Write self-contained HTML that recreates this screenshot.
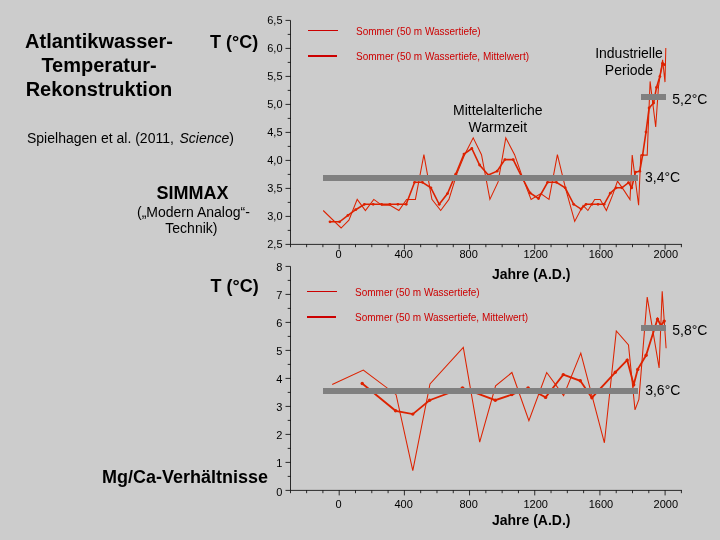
<!DOCTYPE html>
<html><head><meta charset="utf-8"><title>Atlantikwasser-Temperatur-Rekonstruktion</title>
<style>
html,body{margin:0;padding:0}
body{width:720px;height:540px;background:#cccccc;position:relative;overflow:hidden;font-family:"Liberation Sans",sans-serif;color:#000}
.t{position:absolute;white-space:nowrap;line-height:1.15}
#txt{position:absolute;left:0;top:0;width:720px;height:540px;will-change:transform}
</style></head><body>
<svg width="720" height="540" viewBox="0 0 720 540" style="position:absolute;left:0;top:0">
<g stroke="#000" stroke-width="0.8" fill="none">
<line x1="290.5" y1="20.4" x2="290.5" y2="244.4"/><line x1="285.5" y1="20.40" x2="290.5" y2="20.40"/><line x1="287.7" y1="34.40" x2="290.5" y2="34.40"/><line x1="285.5" y1="48.40" x2="290.5" y2="48.40"/><line x1="287.7" y1="62.40" x2="290.5" y2="62.40"/><line x1="285.5" y1="76.40" x2="290.5" y2="76.40"/><line x1="287.7" y1="90.40" x2="290.5" y2="90.40"/><line x1="285.5" y1="104.40" x2="290.5" y2="104.40"/><line x1="287.7" y1="118.40" x2="290.5" y2="118.40"/><line x1="285.5" y1="132.40" x2="290.5" y2="132.40"/><line x1="287.7" y1="146.40" x2="290.5" y2="146.40"/><line x1="285.5" y1="160.40" x2="290.5" y2="160.40"/><line x1="287.7" y1="174.40" x2="290.5" y2="174.40"/><line x1="285.5" y1="188.40" x2="290.5" y2="188.40"/><line x1="287.7" y1="202.40" x2="290.5" y2="202.40"/><line x1="285.5" y1="216.40" x2="290.5" y2="216.40"/><line x1="287.7" y1="230.40" x2="290.5" y2="230.40"/><line x1="285.5" y1="244.40" x2="290.5" y2="244.40"/>
<line x1="290.5" y1="244.4" x2="681.9" y2="244.4"/><line x1="290.5" y1="244.4" x2="290.5" y2="247.20000000000002"/><line x1="306.61" y1="244.4" x2="306.61" y2="247.20000000000002"/><line x1="322.90" y1="244.4" x2="322.90" y2="247.20000000000002"/><line x1="339.20" y1="244.4" x2="339.20" y2="249.4"/><line x1="355.50" y1="244.4" x2="355.50" y2="247.20000000000002"/><line x1="371.79" y1="244.4" x2="371.79" y2="247.20000000000002"/><line x1="388.08" y1="244.4" x2="388.08" y2="247.20000000000002"/><line x1="404.38" y1="244.4" x2="404.38" y2="249.4"/><line x1="420.68" y1="244.4" x2="420.68" y2="247.20000000000002"/><line x1="436.97" y1="244.4" x2="436.97" y2="247.20000000000002"/><line x1="453.26" y1="244.4" x2="453.26" y2="247.20000000000002"/><line x1="469.56" y1="244.4" x2="469.56" y2="249.4"/><line x1="485.85" y1="244.4" x2="485.85" y2="247.20000000000002"/><line x1="502.15" y1="244.4" x2="502.15" y2="247.20000000000002"/><line x1="518.45" y1="244.4" x2="518.45" y2="247.20000000000002"/><line x1="534.74" y1="244.4" x2="534.74" y2="249.4"/><line x1="551.04" y1="244.4" x2="551.04" y2="247.20000000000002"/><line x1="567.33" y1="244.4" x2="567.33" y2="247.20000000000002"/><line x1="583.62" y1="244.4" x2="583.62" y2="247.20000000000002"/><line x1="599.92" y1="244.4" x2="599.92" y2="249.4"/><line x1="616.22" y1="244.4" x2="616.22" y2="247.20000000000002"/><line x1="632.51" y1="244.4" x2="632.51" y2="247.20000000000002"/><line x1="648.81" y1="244.4" x2="648.81" y2="247.20000000000002"/><line x1="665.10" y1="244.4" x2="665.10" y2="249.4"/><line x1="681.40" y1="244.4" x2="681.40" y2="247.20000000000002"/>
<line x1="290.5" y1="266.4" x2="290.5" y2="490.4"/><line x1="285.5" y1="266.40" x2="290.5" y2="266.40"/><line x1="287.7" y1="280.40" x2="290.5" y2="280.40"/><line x1="285.5" y1="294.40" x2="290.5" y2="294.40"/><line x1="287.7" y1="308.40" x2="290.5" y2="308.40"/><line x1="285.5" y1="322.40" x2="290.5" y2="322.40"/><line x1="287.7" y1="336.40" x2="290.5" y2="336.40"/><line x1="285.5" y1="350.40" x2="290.5" y2="350.40"/><line x1="287.7" y1="364.40" x2="290.5" y2="364.40"/><line x1="285.5" y1="378.40" x2="290.5" y2="378.40"/><line x1="287.7" y1="392.40" x2="290.5" y2="392.40"/><line x1="285.5" y1="406.40" x2="290.5" y2="406.40"/><line x1="287.7" y1="420.40" x2="290.5" y2="420.40"/><line x1="285.5" y1="434.40" x2="290.5" y2="434.40"/><line x1="287.7" y1="448.40" x2="290.5" y2="448.40"/><line x1="285.5" y1="462.40" x2="290.5" y2="462.40"/><line x1="287.7" y1="476.40" x2="290.5" y2="476.40"/><line x1="285.5" y1="490.40" x2="290.5" y2="490.40"/>
<line x1="290.5" y1="490.4" x2="681.9" y2="490.4"/><line x1="290.5" y1="490.4" x2="290.5" y2="493.2"/><line x1="306.61" y1="490.4" x2="306.61" y2="493.2"/><line x1="322.90" y1="490.4" x2="322.90" y2="493.2"/><line x1="339.20" y1="490.4" x2="339.20" y2="495.4"/><line x1="355.50" y1="490.4" x2="355.50" y2="493.2"/><line x1="371.79" y1="490.4" x2="371.79" y2="493.2"/><line x1="388.08" y1="490.4" x2="388.08" y2="493.2"/><line x1="404.38" y1="490.4" x2="404.38" y2="495.4"/><line x1="420.68" y1="490.4" x2="420.68" y2="493.2"/><line x1="436.97" y1="490.4" x2="436.97" y2="493.2"/><line x1="453.26" y1="490.4" x2="453.26" y2="493.2"/><line x1="469.56" y1="490.4" x2="469.56" y2="495.4"/><line x1="485.85" y1="490.4" x2="485.85" y2="493.2"/><line x1="502.15" y1="490.4" x2="502.15" y2="493.2"/><line x1="518.45" y1="490.4" x2="518.45" y2="493.2"/><line x1="534.74" y1="490.4" x2="534.74" y2="495.4"/><line x1="551.04" y1="490.4" x2="551.04" y2="493.2"/><line x1="567.33" y1="490.4" x2="567.33" y2="493.2"/><line x1="583.62" y1="490.4" x2="583.62" y2="493.2"/><line x1="599.92" y1="490.4" x2="599.92" y2="495.4"/><line x1="616.22" y1="490.4" x2="616.22" y2="493.2"/><line x1="632.51" y1="490.4" x2="632.51" y2="493.2"/><line x1="648.81" y1="490.4" x2="648.81" y2="493.2"/><line x1="665.10" y1="490.4" x2="665.10" y2="495.4"/><line x1="681.40" y1="490.4" x2="681.40" y2="493.2"/>
</g>

<g stroke="#dd2200" fill="none" stroke-linejoin="miter">
<polyline stroke-width="1.05" points="323.2,210.5 341.1,228.0 348.9,220.2 357.2,199.4 365.4,210.5 373.8,199.4 381.9,205.3 390.1,205.3 398.9,210.5 406.6,199.4 415.4,199.4 423.9,154.7 431.9,199.4 440.7,210.5 448.9,199.4 457.0,173.4 465.0,153.9 473.2,137.8 481.5,154.7 489.9,199.4 498.1,181.9 505.8,137.8 514.6,154.7 522.4,177.1 531.1,199.4 540.8,193.6 549.0,199.4 557.4,154.7 565.6,188.7 574.7,221.4 583.1,205.3 587.9,210.5 594.7,199.4 600.2,199.4 606.4,210.5 612.5,195.4 617.5,181.2 624.0,190.4 630.0,199.6 632.2,155.1 638.6,205.2 640.8,155.1 647.2,155.1 648.2,129.4 650.1,81.4 655.7,127.0 658.5,86.4 662.6,59.8 665.0,82.1 665.8,48.0"/>
<polyline stroke-width="1.6" points="330.0,221.8 339.6,221.8 347.9,215.4 355.7,209.7 364.4,204.3 373.2,204.3 381.6,204.3 389.8,204.3 397.9,204.3 406.2,204.3 414.6,182.3 422.4,182.3 430.9,187.8 439.2,204.3 447.5,193.6 455.7,174.2 464.0,154.1 471.8,148.5 479.6,165.0 488.3,175.1 497.1,171.2 504.9,159.6 513.2,159.6 521.4,176.1 530.1,193.0 538.5,198.5 547.6,182.3 556.4,182.3 565.2,187.8 573.7,204.3 581.1,209.1 586.0,204.3 592.0,204.3 598.0,204.3 604.1,204.3 610.3,193.2 616.1,187.8 621.9,187.8 628.5,182.6 631.7,187.8 635.5,172.1 639.8,171.2 642.6,155.1 646.0,132.1 649.1,108.0 653.6,103.0 656.5,87.4 659.9,76.4 662.6,63.3 664.4,64.7"/>
<polyline stroke-width="1.05" points="332.2,384.5 363.3,370.0 396.1,394.7 412.8,470.6 430.0,383.9 463.3,347.5 479.7,442.2 495.6,385.9 511.9,372.5 528.9,420.6 546.7,372.5 563.6,395.6 580.8,353.1 604.4,442.8 616.3,330.9 628.5,344.9 635.0,409.9 638.9,399.5 647.2,297.1 659.1,367.9 662.2,291.2 666.1,348.2"/>
<polyline stroke-width="1.8" points="362.2,383.5 395.6,410.8 412.8,414.1 429.6,400.2 462.5,388.0 495.3,400.2 511.9,394.6 528.1,388.0 545.6,397.4 563.3,374.6 580.3,380.8 591.9,397.7 615.3,372.3 627.2,360.1 633.7,384.8 637.7,369.4 646.1,355.3 657.5,319.1 660.9,325.5 664.2,321.1"/>
</g>
<g fill="#dd2200"><circle cx="330.0" cy="221.8" r="1.4"/><circle cx="339.6" cy="221.8" r="1.4"/><circle cx="347.9" cy="215.4" r="1.4"/><circle cx="355.7" cy="209.7" r="1.4"/><circle cx="364.4" cy="204.3" r="1.4"/><circle cx="373.2" cy="204.3" r="1.4"/><circle cx="381.6" cy="204.3" r="1.4"/><circle cx="389.8" cy="204.3" r="1.4"/><circle cx="397.9" cy="204.3" r="1.4"/><circle cx="406.2" cy="204.3" r="1.4"/><circle cx="414.6" cy="182.3" r="1.4"/><circle cx="422.4" cy="182.3" r="1.4"/><circle cx="430.9" cy="187.8" r="1.4"/><circle cx="439.2" cy="204.3" r="1.4"/><circle cx="447.5" cy="193.6" r="1.4"/><circle cx="455.7" cy="174.2" r="1.4"/><circle cx="464.0" cy="154.1" r="1.4"/><circle cx="471.8" cy="148.5" r="1.4"/><circle cx="479.6" cy="165.0" r="1.4"/><circle cx="488.3" cy="175.1" r="1.4"/><circle cx="497.1" cy="171.2" r="1.4"/><circle cx="504.9" cy="159.6" r="1.4"/><circle cx="513.2" cy="159.6" r="1.4"/><circle cx="521.4" cy="176.1" r="1.4"/><circle cx="530.1" cy="193.0" r="1.4"/><circle cx="538.5" cy="198.5" r="1.4"/><circle cx="547.6" cy="182.3" r="1.4"/><circle cx="556.4" cy="182.3" r="1.4"/><circle cx="565.2" cy="187.8" r="1.4"/><circle cx="573.7" cy="204.3" r="1.4"/><circle cx="581.1" cy="209.1" r="1.4"/><circle cx="586.0" cy="204.3" r="1.4"/><circle cx="592.0" cy="204.3" r="1.4"/><circle cx="598.0" cy="204.3" r="1.4"/><circle cx="604.1" cy="204.3" r="1.4"/><circle cx="610.3" cy="193.2" r="1.4"/><circle cx="616.1" cy="187.8" r="1.4"/><circle cx="621.9" cy="187.8" r="1.4"/><circle cx="628.5" cy="182.6" r="1.4"/><circle cx="631.7" cy="187.8" r="1.4"/><circle cx="635.5" cy="172.1" r="1.4"/><circle cx="639.8" cy="171.2" r="1.4"/><circle cx="642.6" cy="155.1" r="1.4"/><circle cx="646.0" cy="132.1" r="1.4"/><circle cx="649.1" cy="108.0" r="1.4"/><circle cx="653.6" cy="103.0" r="1.4"/><circle cx="656.5" cy="87.4" r="1.4"/><circle cx="659.9" cy="76.4" r="1.4"/><circle cx="662.6" cy="63.3" r="1.4"/><circle cx="664.4" cy="64.7" r="1.4"/><circle cx="362.2" cy="383.5" r="1.7"/><circle cx="395.6" cy="410.8" r="1.7"/><circle cx="412.8" cy="414.1" r="1.7"/><circle cx="429.6" cy="400.2" r="1.7"/><circle cx="462.5" cy="388.0" r="1.7"/><circle cx="495.3" cy="400.2" r="1.7"/><circle cx="511.9" cy="394.6" r="1.7"/><circle cx="528.1" cy="388.0" r="1.7"/><circle cx="545.6" cy="397.4" r="1.7"/><circle cx="563.3" cy="374.6" r="1.7"/><circle cx="580.3" cy="380.8" r="1.7"/><circle cx="591.9" cy="397.7" r="1.7"/><circle cx="615.3" cy="372.3" r="1.7"/><circle cx="627.2" cy="360.1" r="1.7"/><circle cx="633.7" cy="384.8" r="1.7"/><circle cx="637.7" cy="369.4" r="1.7"/><circle cx="646.1" cy="355.3" r="1.7"/><circle cx="657.5" cy="319.1" r="1.7"/><circle cx="660.9" cy="325.5" r="1.7"/><circle cx="664.2" cy="321.1" r="1.7"/></g>
<g fill="#808080">
<rect x="323" y="175" width="315" height="6"/>
<rect x="641" y="94" width="25" height="6"/>
<rect x="323" y="388" width="315" height="6"/>
<rect x="641" y="325" width="25" height="6"/>
</g>
<g stroke="#cc0000">
<line x1="308" y1="30.5" x2="338" y2="30.5" stroke-width="1"/>
<line x1="308" y1="56" x2="337" y2="56" stroke-width="2"/>
<line x1="307" y1="291.5" x2="337" y2="291.5" stroke-width="1"/>
<line x1="307" y1="317" x2="336" y2="317" stroke-width="2"/>
</g>
</svg>
<div id="txt"><div class="t " style="font-size:20px;line-height:22px;top:30px;font-weight:bold;left:-101.00px;width:400px;text-align:center;">Atlantikwasser-</div><div class="t " style="font-size:20px;line-height:22px;top:54px;font-weight:bold;left:-101.00px;width:400px;text-align:center;">Temperatur-</div><div class="t " style="font-size:20px;line-height:22px;top:78px;font-weight:bold;left:-101.00px;width:400px;text-align:center;">Rekonstruktion</div><div class="t " style="font-size:18px;line-height:20px;top:32px;font-weight:bold;left:210px;">T (°C)</div><div class="t " style="font-size:18px;line-height:20px;top:276px;font-weight:bold;left:210.5px;">T (°C)</div><div class="t " style="font-size:14px;line-height:16px;top:130px;left:27px;">Spielhagen et al. (2011, <i style="margin-left:1.7px">Science</i>)</div><div class="t " style="font-size:18px;line-height:20px;top:183px;font-weight:bold;left:-7.40px;width:400px;text-align:center;">SIMMAX</div><div class="t " style="font-size:14px;line-height:16px;top:204px;left:-6.60px;width:400px;text-align:center;">(„Modern Analog“-</div><div class="t " style="font-size:14px;line-height:16px;top:220px;left:-8.60px;width:400px;text-align:center;">Technik)</div><div class="t " style="font-size:18px;line-height:20px;top:467px;font-weight:bold;left:102px;">Mg/Ca-Verhältnisse</div><div class="t " style="font-size:14px;line-height:16px;top:266px;font-weight:bold;left:331.20px;width:400px;text-align:center;">Jahre (A.D.)</div><div class="t " style="font-size:14px;line-height:16px;top:512px;font-weight:bold;left:331.20px;width:400px;text-align:center;">Jahre (A.D.)</div><div class="t " style="font-size:14px;line-height:16px;top:102px;left:297.80px;width:400px;text-align:center;">Mittelalterliche</div><div class="t " style="font-size:14px;line-height:16px;top:119px;left:297.80px;width:400px;text-align:center;">Warmzeit</div><div class="t " style="font-size:14px;line-height:16px;top:45px;left:429.00px;width:400px;text-align:center;">Industrielle</div><div class="t " style="font-size:14px;line-height:16px;top:62px;left:429.00px;width:400px;text-align:center;">Periode</div><div class="t " style="font-size:14px;line-height:16px;top:91px;left:672.3px;">5,2°C</div><div class="t " style="font-size:14px;line-height:16px;top:169px;left:645px;">3,4°C</div><div class="t " style="font-size:14px;line-height:16px;top:322px;left:672.3px;">5,8°C</div><div class="t " style="font-size:14px;line-height:16px;top:382px;left:645.2px;">3,6°C</div><div class="t " style="font-size:10px;line-height:11px;top:26px;color:#cc0000;left:356px;">Sommer (50 m Wassertiefe)</div><div class="t " style="font-size:10px;line-height:11px;top:51px;color:#cc0000;left:356px;">Sommer (50 m Wassertiefe, Mittelwert)</div><div class="t " style="font-size:10px;line-height:11px;top:287px;color:#cc0000;left:355px;">Sommer (50 m Wassertiefe)</div><div class="t " style="font-size:10px;line-height:11px;top:312px;color:#cc0000;left:355px;">Sommer (50 m Wassertiefe, Mittelwert)</div><div class="t tick" style="font-size:11px;line-height:12px;top:14px;left:82.50px;width:200px;text-align:right;">6,5</div><div class="t tick" style="font-size:11px;line-height:12px;top:42px;left:82.50px;width:200px;text-align:right;">6,0</div><div class="t tick" style="font-size:11px;line-height:12px;top:70px;left:82.50px;width:200px;text-align:right;">5,5</div><div class="t tick" style="font-size:11px;line-height:12px;top:98px;left:82.50px;width:200px;text-align:right;">5,0</div><div class="t tick" style="font-size:11px;line-height:12px;top:126px;left:82.50px;width:200px;text-align:right;">4,5</div><div class="t tick" style="font-size:11px;line-height:12px;top:154px;left:82.50px;width:200px;text-align:right;">4,0</div><div class="t tick" style="font-size:11px;line-height:12px;top:182px;left:82.50px;width:200px;text-align:right;">3,5</div><div class="t tick" style="font-size:11px;line-height:12px;top:210px;left:82.50px;width:200px;text-align:right;">3,0</div><div class="t tick" style="font-size:11px;line-height:12px;top:238px;left:82.50px;width:200px;text-align:right;">2,5</div><div class="t tick" style="font-size:11px;line-height:12px;top:261px;left:82.40px;width:200px;text-align:right;">8</div><div class="t tick" style="font-size:11px;line-height:12px;top:289px;left:82.40px;width:200px;text-align:right;">7</div><div class="t tick" style="font-size:11px;line-height:12px;top:317px;left:82.40px;width:200px;text-align:right;">6</div><div class="t tick" style="font-size:11px;line-height:12px;top:345px;left:82.40px;width:200px;text-align:right;">5</div><div class="t tick" style="font-size:11px;line-height:12px;top:373px;left:82.40px;width:200px;text-align:right;">4</div><div class="t tick" style="font-size:11px;line-height:12px;top:401px;left:82.40px;width:200px;text-align:right;">3</div><div class="t tick" style="font-size:11px;line-height:12px;top:429px;left:82.40px;width:200px;text-align:right;">2</div><div class="t tick" style="font-size:11px;line-height:12px;top:457px;left:82.40px;width:200px;text-align:right;">1</div><div class="t tick" style="font-size:11px;line-height:12px;top:486px;left:82.40px;width:200px;text-align:right;">0</div><div class="t tick" style="font-size:11px;line-height:12px;top:248px;left:138.60px;width:400px;text-align:center;">0</div><div class="t tick" style="font-size:11px;line-height:12px;top:248px;left:203.60px;width:400px;text-align:center;">400</div><div class="t tick" style="font-size:11px;line-height:12px;top:248px;left:268.70px;width:400px;text-align:center;">800</div><div class="t tick" style="font-size:11px;line-height:12px;top:248px;left:335.70px;width:400px;text-align:center;">1200</div><div class="t tick" style="font-size:11px;line-height:12px;top:248px;left:401.00px;width:400px;text-align:center;">1600</div><div class="t tick" style="font-size:11px;line-height:12px;top:248px;left:465.80px;width:400px;text-align:center;">2000</div><div class="t tick" style="font-size:11px;line-height:12px;top:498px;left:138.60px;width:400px;text-align:center;">0</div><div class="t tick" style="font-size:11px;line-height:12px;top:498px;left:203.60px;width:400px;text-align:center;">400</div><div class="t tick" style="font-size:11px;line-height:12px;top:498px;left:268.70px;width:400px;text-align:center;">800</div><div class="t tick" style="font-size:11px;line-height:12px;top:498px;left:335.70px;width:400px;text-align:center;">1200</div><div class="t tick" style="font-size:11px;line-height:12px;top:498px;left:401.00px;width:400px;text-align:center;">1600</div><div class="t tick" style="font-size:11px;line-height:12px;top:498px;left:465.80px;width:400px;text-align:center;">2000</div></div>
</body></html>
